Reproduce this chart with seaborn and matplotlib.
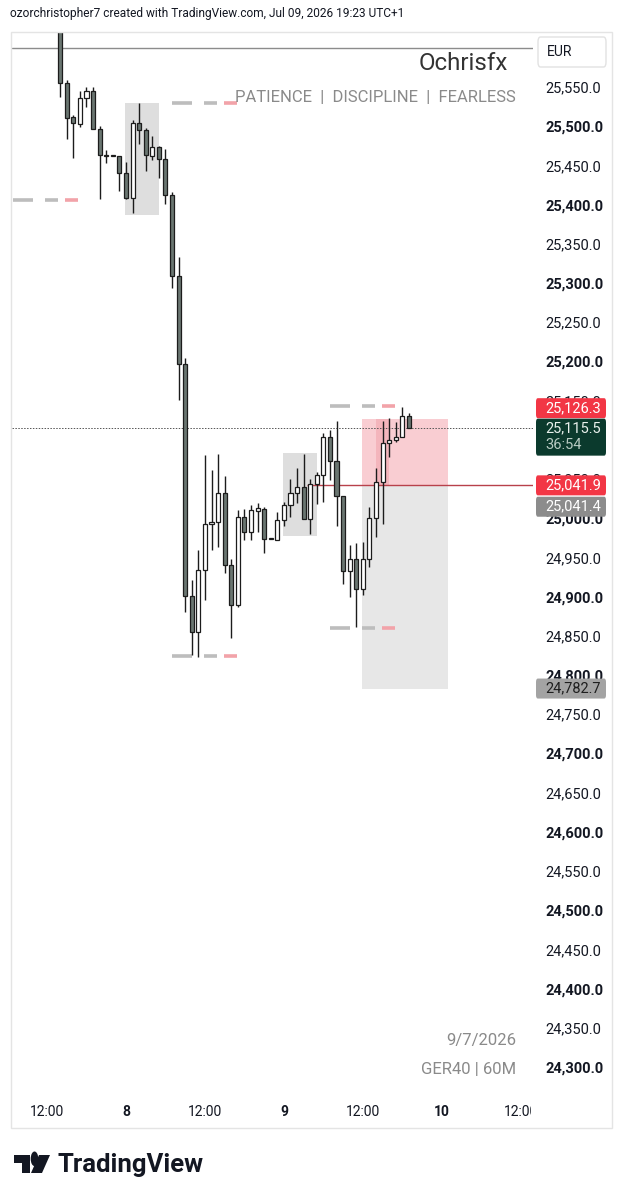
import matplotlib
matplotlib.use("Agg")
import numpy as np
import pandas as pd
import seaborn as sns
import matplotlib.pyplot as plt
from matplotlib.patches import Rectangle, FancyBboxPatch, Polygon, Circle
from matplotlib.transforms import Bbox, TransformedBbox

# GER40 60M candles, x = hours after Jul 7 12:00
hours = list(range(2, 56))
opens = [25640, 25554.7, 25511.4, 25502.8, 25536.4, 25544.9, 25496.0, 25462.9, 25462.0, 25462.0,
         25440.7, 25408.8, 25504.5, 25495.2, 25462.4, 25473.1, 25458.2, 25412.2, 25308.9, 25196.7,
         24900.8, 24855.2, 24933.9, 24992.2, 24995.6, 25031.8, 24940.3, 24889.3, 25001.9, 24982.8,
         25009.2, 25011.7, 24973.5, 24972.2, 24997.7, 25016.8, 25031.8, 25039.4, 24999.0, 25043.6,
         25055.1, 25103.9, 25073.3, 25028.3, 24933.0, 24947.6, 24909.3, 24947.6, 24999.9, 25046.6,
         25095.5, 25099.7, 25103.9, 25130.3]
highs = [25660, 25558.9, 25514.3, 25545.3, 25549.6, 25549.6, 25500.3, 25469.6, 25462.5, 25462.0,
         25454.7, 25507.9, 25529.2, 25497.3, 25487.5, 25474.7, 25470.5, 25416.5, 25332.8, 25203.9,
         24921.2, 24959.4, 25080.6, 25061.5, 25081.9, 25053.8, 24947.6, 25010.5, 25011.4, 25016.8,
         25019.0, 25014.3, 24973.5, 25008.3, 25021.0, 25049.6, 25063.6, 25081.9, 25049.6, 25059.3,
         25108.3, 25112.5, 25124.3, 25028.3, 24965.8, 24968.7, 24970.0, 25014.7, 25063.6, 25124.3,
         25127.4, 25123.1, 25142.2, 25134.6]
lows = [25537.6, 25483.7, 25459.8, 25499.3, 25524.1, 25496.0, 25406.8, 25452.7, 25461.5, 25417.3,
        25407.1, 25388.9, 25477.3, 25443.2, 25456.9, 25433.5, 25400.8, 25293.2, 25150.8, 24880.8,
        24825.5, 24823.3, 24895.7, 24959.4, 24963.6, 24930.5, 24846.6, 24887.1, 24972.2, 24972.2,
        24982.8, 24956.0, 24973.5, 24972.2, 24990.1, 25001.2, 25019.8, 24999.0, 24979.9, 25018.1,
        25021.0, 25048.7, 24990.1, 24916.1, 24899.1, 24861.6, 24902.0, 24938.1, 24976.4, 24992.8,
        25078.4, 25097.6, 25103.9, 25115.0]
closes = [25555.1, 25510.8, 25503.7, 25536.4, 25544.9, 25496.0, 25463.3, 25462.0, 25462.0, 25440.7,
          25408.8, 25504.5, 25495.2, 25463.3, 25473.1, 25458.2, 25412.2, 25308.9, 25196.7, 24900.8,
          24855.2, 24933.9, 24992.6, 24994.8, 25031.8, 24940.3, 24889.3, 25001.9, 24982.8, 25010.5,
          25012.6, 24973.5, 24973.5, 24997.7, 25016.8, 25031.8, 25039.4, 24999.0, 25043.6, 25055.1,
          25103.9, 25073.3, 25028.3, 24933.0, 24947.6, 24909.3, 24947.6, 24999.9, 25046.6, 25095.5,
          25099.7, 25103.9, 25130.3, 25115.5]

tick_hours = [0, 12, 24, 36, 48, 60, 72]
tick_labels = ["12:00", "8", "12:00", "9", "12:00", "10", "12:00"]

# drawings
top_line = 25600.0
level_prices = [25405.9, 25529.6, 25143.1, 24860.3, 24824.2]
level_starts = [-5.2, 19.0, 43.0, 43.0, 19.0]
boxes = [(11.85, 17.0, 25386.6, 25529.6), (35.9, 41.1, 24977.7, 25082.8)]
stop_price = 25126.3
entry_price = 25041.9
target_price = 24782.7
last_price = 25115.5
other_price = 25041.4

W, H = 623, 1200
df = pd.DataFrame({"t": hours, "o": opens, "h": highs, "l": lows, "c": closes})
df["up"] = df["c"] >= df["o"]

sns.set_theme(style="white")
plt.rcParams["font.family"] = ["Roboto", "DejaVu Sans"]

fig = plt.figure(figsize=(W / 100, H / 100), dpi=100)
fig.patch.set_facecolor("white")
ax = fig.add_axes([12 / W, 1 - 1093 / H, 521 / W, 1060 / H])
ax.set_facecolor("white")
ax.set_xlim(-5.32, 73.86)
ax.set_ylim(24266.8, 25618.9)
sns.despine(ax=ax, left=True, bottom=True, right=True, top=True)

# position tool + order blocks
ax.add_patch(Rectangle((47.9, entry_price), 13.0, stop_price - entry_price, fc="#f9cdd2", ec="none", zorder=1))
ax.add_patch(Rectangle((50.0, entry_price), 2.0, stop_price - entry_price, fc="#f2a5ae", ec="none", alpha=0.6, zorder=1))
ax.add_patch(Rectangle((47.9, target_price), 13.0, entry_price - target_price, fc="#e7e7e7", ec="none", zorder=1))
for x0, x1, y0, y1 in boxes:
    ax.add_patch(Rectangle((x0, y0), x1 - x0, y1 - y0, fc="#dedede", ec="none", zorder=1))

ax.axhline(top_line, color="#8c8c8c", lw=1, zorder=1)
ax.axhline(last_price, color="#555555", lw=0.7, ls=(0, (1.5, 1.5)), zorder=1)
ax.hlines(entry_price, 39.5, 73.86, color="#b8414b", lw=1, zorder=1)
for p, s in zip(level_prices, level_starts):
    ax.hlines([p, p], [s, s + 4.9], [s + 3.0, s + 6.9], color="#bdbdbd", lw=2.6, zorder=1)
    ax.hlines(p, s + 7.9, s + 9.9, color="#f2a3a9", lw=2.6, zorder=1)

# candles
ax.vlines(df["t"], df["l"], df["h"], color="#1c1c1c", lw=1, zorder=2)
body_lo = df[["o", "c"]].min(axis=1)
body_h = (df["o"] - df["c"]).abs().clip(lower=0.8)
ax.bar(df["t"], body_h, bottom=body_lo, width=0.62,
       color=np.where(df["up"], "white", "#6a7671"), edgecolor="#1c1c1c", linewidth=0.9, zorder=3)

# axes ticks
yt = np.arange(24300, 25551, 50)
ax.set_yticks(yt)
ax.set_yticklabels([f"{v:,.1f}" for v in yt])
ax.yaxis.tick_right()
ax.tick_params(axis="y", length=0, pad=9, labelsize=10.5, labelcolor="#131722")
for lab, v in zip(ax.get_yticklabels(), yt):
    if v % 100 == 0:
        lab.set_fontweight("bold")
ax.set_xticks(tick_hours)
ax.set_xticklabels(tick_labels)
ax.tick_params(axis="x", length=0, pad=9, labelsize=10, labelcolor="#131722")
clip = TransformedBbox(Bbox([[0, 0], [531 / W, 1]]), fig.transFigure)
for lab in ax.get_xticklabels():
    if lab.get_text() in ("8", "9", "10"):
        lab.set_fontweight("bold")
    lab.set_clip_box(clip)
    lab.set_clip_on(True)
ax.grid(False)

# frame
fig.add_artist(Rectangle((11 / W, 1 - 1128 / H), 601 / W, 1096 / H, transform=fig.transFigure,
                         fill=False, ec="#e4e4e4", lw=1))


def py(p):
    return ax.transData.transform((0, p))[1] / H


def tag(p, color, txt, tcolor, dy=0, hgt=20, extra=None, ecolor=None):
    yc = py(p) - dy / H
    top = yc + 10 / H
    bottom = top - hgt / H
    fig.add_artist(FancyBboxPatch((536 / W, bottom), 70 / W, hgt / H, transform=fig.transFigure,
                                  boxstyle="round,pad=0,rounding_size=0.003", fc=color, ec="none", zorder=5))
    fig.text(545 / W, yc, txt, color=tcolor, fontsize=10.5, va="center", ha="left", zorder=6)
    if extra:
        fig.text(545 / W, yc - 16 / H, extra, color=ecolor or tcolor, fontsize=10.5,
                 va="center", ha="left", zorder=6)


tag(stop_price, "#f23645", f"{stop_price:,.1f}", "white", dy=-11)
tag(last_price, "#0b3a2d", f"{last_price:,.1f}", "#e8f0ec", dy=1, hgt=37, extra="36:54", ecolor="#b9cbc3")
tag(entry_price, "#f23645", f"{entry_price:,.1f}", "white")
tag(other_price, "#8c8c8c", f"{other_price:,.1f}", "white", dy=21)
tag(target_price, "#a3a3a3", f"{target_price:,.1f}", "#1e1e1e")

# currency box
fig.add_artist(FancyBboxPatch((538 / W, 1 - 67 / H), 68 / W, 30 / H, transform=fig.transFigure,
                              boxstyle="round,pad=0,rounding_size=0.004", fc="white", ec="#e2e2e2", lw=1))
fig.text(547 / W, 1 - 52 / H, "EUR", fontsize=10, color="#131722", va="center")

# texts
fig.text(10 / W, 1 - 13 / H, "ozorchristopher7 created with TradingView.com, Jul 09, 2026 19:23 UTC+1",
         fontsize=8.6, color="#131722", va="center")
fig.text(508 / W, 1 - 64 / H, "Ochrisfx", fontsize=17.4, color="#333333", va="center", ha="right")
fig.text(516 / W, 1 - 98 / H, "PATIENCE  |  DISCIPLINE  |  FEARLESS", fontsize=12,
         color="#8a8a8a", va="center", ha="right")
fig.text(516 / W, 1 - 1041 / H, "9/7/2026", fontsize=12, color="#8a8a8a", va="center", ha="right")
fig.text(516 / W, 1 - 1069 / H, "GER40 | 60M", fontsize=12, color="#8a8a8a", va="center", ha="right")

# TradingView logo
def fp(x, y):
    return (x / W, 1 - y / H)


fig.add_artist(Polygon([fp(14, 1155), fp(30, 1155), fp(30, 1173), fp(22, 1173), fp(22, 1163), fp(14, 1163)],
                       closed=True, transform=fig.transFigure, fc="#131722", ec="none"))
fig.add_artist(Circle(fp(34.5, 1158.8), 3.8 / W, transform=fig.transFigure, fc="#131722", ec="none"))
fig.add_artist(Polygon([fp(39, 1155), fp(50, 1155), fp(42, 1173), fp(31, 1173)],
                       closed=True, transform=fig.transFigure, fc="#131722", ec="none"))
fig.text(57 / W, 1 - 1165 / H, "TradingView", fontsize=18.5, fontweight="bold", color="#131722", va="center")

fig.savefig("out.png", dpi=100, facecolor="white")
